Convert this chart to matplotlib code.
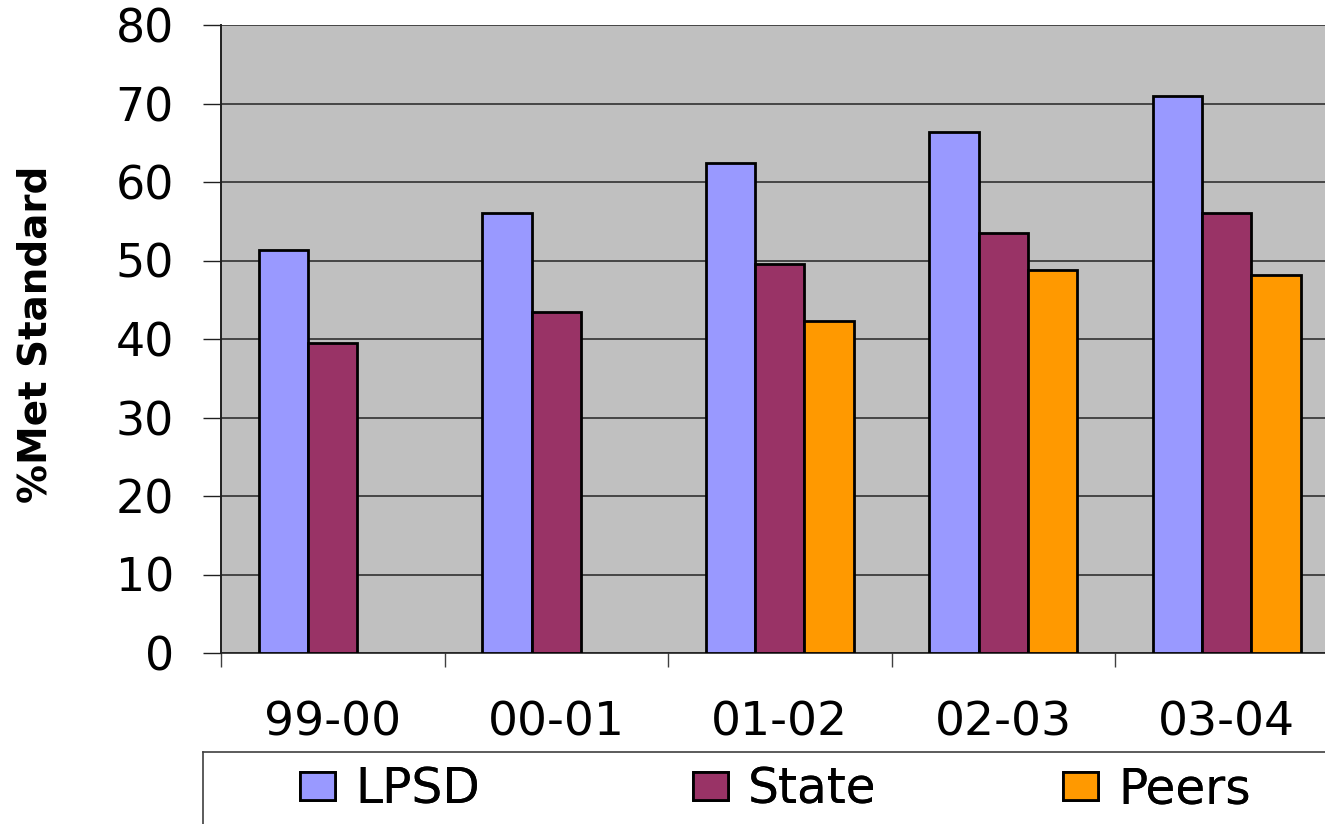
import matplotlib
matplotlib.use("Agg")
import matplotlib.pyplot as plt
import numpy as np

categories = ["99-00", "00-01", "01-02", "02-03", "03-04"]
lpsd = [51.3, 56.0, 62.4, 66.4, 71.0]
state = [39.5, 43.4, 49.5, 53.5, 56.0]
peers = [np.nan, np.nan, 42.3, 48.8, 48.1]
series_names = ["LPSD", "State", "Peers"]
colors = ["#9999FF", "#993366", "#FF9900"]
yticks = [0, 10, 20, 30, 40, 50, 60, 70, 80]

W, H = 1325, 824
fig = plt.figure(figsize=(W / 100, H / 100), dpi=100)
fig.patch.set_facecolor("white")

def fx(px):
    return px / W

def fy(py):
    return 1 - py / H

ax = fig.add_axes([fx(221), fy(653), fx(1338.5) - fx(221), fy(25) - fy(653)])
ax.set_facecolor("#C0C0C0")

x = np.arange(len(categories))
bw = 0.22
bars = []
for i, (vals, c, name) in enumerate(zip([lpsd, state, peers], colors, series_names)):
    b = ax.bar(x + (i - 1) * bw, vals, width=bw, color=c, edgecolor="black",
               linewidth=2.0, label=name, zorder=3)
    bars.append(b)

ax.set_xlim(-0.5, len(categories) - 0.5)
ax.set_ylim(0, 80)
ax.set_yticks(yticks)
ax.yaxis.grid(True, color="#303030", linewidth=1.2, zorder=1)
ax.set_axisbelow(True)

for s in ["top", "right"]:
    ax.spines[s].set_visible(False)
ax.spines["left"].set_color("#202020")
ax.spines["left"].set_linewidth(1.4)
ax.spines["bottom"].set_color("#202020")
ax.spines["bottom"].set_linewidth(1.2)

ax.tick_params(axis="y", length=13, width=1.0, color="#202020", pad=21,
               labelsize=33, labelfontfamily="DejaVu Sans")
ax.set_xticks(x)
ax.set_xticklabels(categories)
ax.tick_params(axis="x", which="major", length=0, pad=34, labelsize=34,
               labelfontfamily="DejaVu Sans")
ax.set_xticks(np.arange(len(categories) + 1) - 0.5, minor=True)
ax.tick_params(axis="x", which="minor", length=10, width=1.0, color="#404040")

ax.set_ylabel("%Met Standard", fontsize=28, fontweight="bold",
              family="DejaVu Sans", va="center")
ax.yaxis.set_label_coords(-0.1664, 0.508)

# legend frame (partially outside the figure)
fig.add_artist(plt.Line2D([fx(203), 1.0], [fy(752), fy(752)], transform=fig.transFigure,
                          color="#404040", linewidth=1.2))
fig.add_artist(plt.Line2D([fx(203), fx(203)], [fy(752), 0.0], transform=fig.transFigure,
                          color="#404040", linewidth=1.2))

fs = 35
fspx = fs * 100 / 72
marker_left = [300, 693, 1063]
for b, name, mx in zip(bars, series_names, marker_left):
    leg = fig.legend([b], [name], loc="center left",
                     bbox_to_anchor=(fx(mx), fy(789)), frameon=False,
                     prop={"family": "DejaVu Sans", "size": fs},
                     borderpad=0, borderaxespad=0,
                     handlelength=35 / fspx, handleheight=25 / fspx,
                     handletextpad=20 / fspx)
    fig.add_artist(leg)

fig.savefig("out.png", dpi=100, facecolor="white")
